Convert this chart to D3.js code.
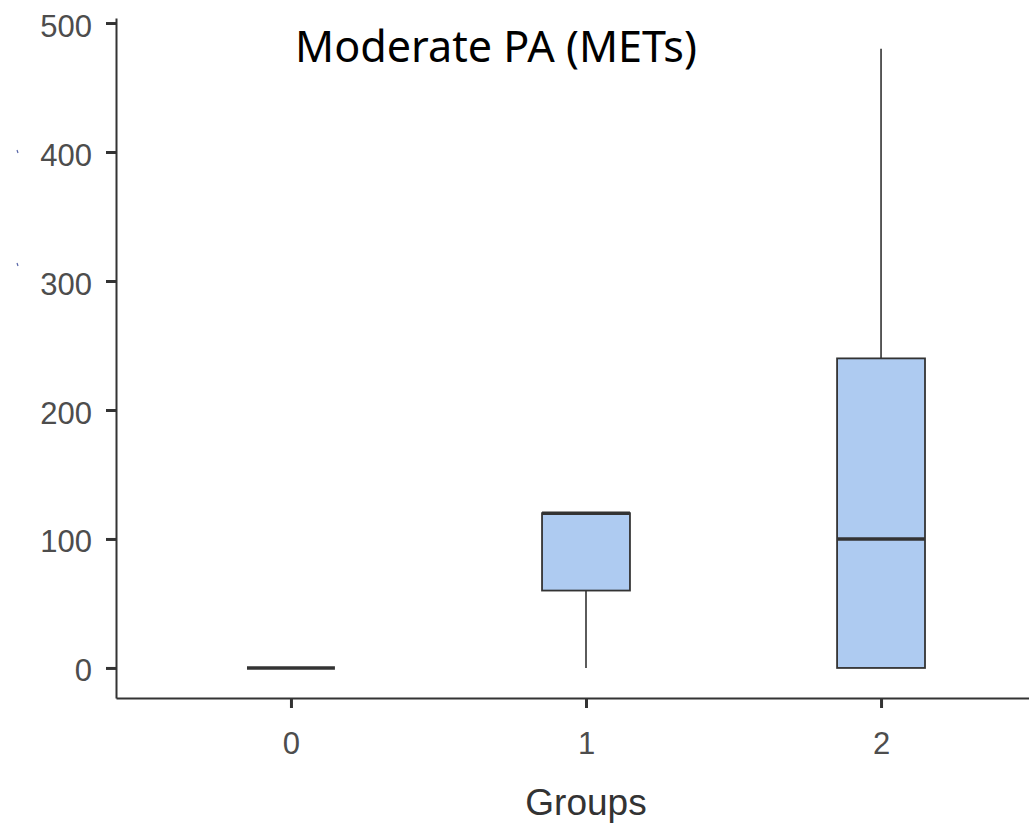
<!DOCTYPE html>
<html>
<head>
<meta charset="utf-8">
<script src="https://cdn.jsdelivr.net/npm/d3@7/dist/d3.min.js"></script>
<style>
  html, body { margin: 0; padding: 0; background: #ffffff; }
  svg { display: block; }
</style>
</head>
<body>
<div id="chart"></div>
<script>
// Groups and box-plot summaries of moderate physical activity (METs)
const groups = ["0", "1", "2"];
const whiskerLow = [0, 0, 0];
const q1 = [0, 60, 0];
const median = [0, 120, 100];
const q3 = [0, 120, 240];
const whiskerHigh = [0, 120, 480];
const yTicks = [0, 100, 200, 300, 400, 500];

const W = 1029, H = 831;
const svg = d3.select("#chart").append("svg")
  .attr("width", W).attr("height", H);

const y = d3.scaleLinear().domain([-23.3, 503.9]).range([698, 18]);
const x = d3.scalePoint().domain(groups).range([116, 1056]).padding(0.593);
const boxW = x.step() * 0.298;

const data = groups.map((g, i) => ({
  g, lo: whiskerLow[i], q1: q1[i], med: median[i], q3: q3[i], hi: whiskerHigh[i]
}));

const ink = "#333333";
const tickText = "#4d4d4d";

// y axis
const yAxis = svg.append("g")
  .attr("transform", "translate(116,0)")
  .call(d3.axisLeft(y).tickValues(yTicks).tickSizeInner(10).tickSizeOuter(0).tickPadding(14));
yAxis.select(".domain").attr("stroke", ink).attr("stroke-width", 2);
yAxis.selectAll(".tick line").attr("stroke", ink).attr("stroke-width", 3);
yAxis.selectAll(".tick text")
  .attr("fill", tickText)
  .attr("dy", "0.42em")
  .style("font-family", "Liberation Sans, Arial, sans-serif")
  .style("font-size", "31px");

// x axis
const xAxis = svg.append("g")
  .attr("transform", "translate(0,698)")
  .call(d3.axisBottom(x).tickSizeInner(10).tickSizeOuter(0).tickPadding(24));
xAxis.select(".domain").attr("stroke", ink).attr("stroke-width", 2);
xAxis.selectAll(".tick line").attr("stroke", ink).attr("stroke-width", 3);
xAxis.selectAll(".tick text")
  .attr("fill", tickText)
  .style("font-family", "Liberation Sans, Arial, sans-serif")
  .style("font-size", "31px");

// boxes
const box = svg.append("g").selectAll("g").data(data).join("g");

box.filter(d => d.hi > d.q3).append("line")
  .attr("x1", d => x(d.g)).attr("x2", d => x(d.g))
  .attr("y1", d => y(d.q3)).attr("y2", d => y(d.hi))
  .attr("stroke", ink).attr("stroke-width", 1.6);

box.filter(d => d.lo < d.q1).append("line")
  .attr("x1", d => x(d.g)).attr("x2", d => x(d.g))
  .attr("y1", d => y(d.q1)).attr("y2", d => y(d.lo))
  .attr("stroke", ink).attr("stroke-width", 1.6);

box.append("rect")
  .attr("x", d => x(d.g) - boxW / 2)
  .attr("width", boxW)
  .attr("y", d => y(d.q3))
  .attr("height", d => y(d.q1) - y(d.q3))
  .attr("fill", "#aecbf1")
  .attr("stroke", ink).attr("stroke-width", 1.8);

box.append("line")
  .attr("x1", d => x(d.g) - boxW / 2).attr("x2", d => x(d.g) + boxW / 2)
  .attr("y1", d => y(d.med)).attr("y2", d => y(d.med))
  .attr("stroke", ink).attr("stroke-width", 3.5);

// x axis title
svg.append("text")
  .attr("x", x("1")).attr("y", 815)
  .attr("text-anchor", "middle")
  .attr("fill", ink)
  .style("font-family", "Liberation Sans, Arial, sans-serif")
  .style("font-size", "37px")
  .text("Groups");

// chart title
const title = svg.append("text")
  .attr("x", 496).attr("y", 62)
  .attr("text-anchor", "middle")
  .attr("fill", "#000000")
  .style("font-family", "Noto Sans, Open Sans, sans-serif")
  .style("font-size", "40px")
  .text("Moderate PA (METs)");
const tw = title.node().getComputedTextLength();
title.style("font-size", (40 * 402 / tw) + "px");

// small ink specks beside the y axis labels
svg.append("g").selectAll("line").data([152, 265]).join("line")
  .attr("x1", 17).attr("x2", 18)
  .attr("y1", d => d - 2).attr("y2", d => d + 1)
  .attr("stroke", "#5866a8").attr("stroke-width", 1.2);
</script>
</body>
</html>
